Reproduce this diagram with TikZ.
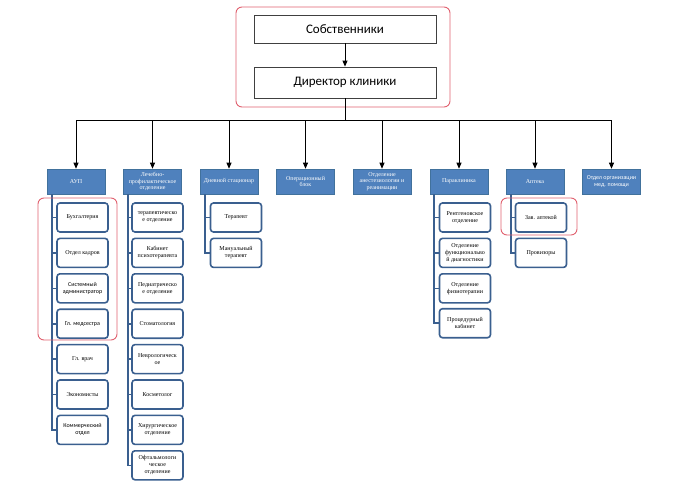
\documentclass[tikz,border=0pt]{standalone}
\usepackage{fontspec}
\setmainfont{Liberation Serif}
\newfontfamily\calfont{Carlito}
\usetikzlibrary{arrows.meta}
\definecolor{hblue}{HTML}{4F81BD}
\definecolor{hborder}{HTML}{41719C}
\definecolor{tblue}{HTML}{3A5F8F}
\definecolor{rframe}{HTML}{E0606E}
\tikzset{
  topbox/.style={draw=black!75, line width=0.8pt, fill=white, minimum width=182pt, inner sep=1pt, font=\calfont\fontsize{13}{15}\selectfont},
  head/.style={draw=hborder, line width=0.6pt, fill=hblue, minimum width=58pt, minimum height=25pt, inner sep=0.5pt, align=center, text=white, font=\fontsize{6}{6.6}\selectfont},
  sub/.style={draw=tblue, line width=1.6pt, rounded corners=3pt, fill=white, minimum width=51pt, minimum height=29pt, inner sep=0.5pt, align=center, font=\fontsize{6}{7}\selectfont},
  sans/.style={font=\calfont\fontsize{6}{7}\selectfont},
  redframe/.style={draw=rframe, line width=0.9pt, rounded corners=6pt},
  conn/.style={draw=black, line width=0.8pt, -{Triangle[length=6pt,width=5pt]}},
  plain/.style={draw=black, line width=0.8pt},
  tree/.style={draw=tblue, line width=1.6pt}
}
\begin{document}
\begin{tikzpicture}[x=1pt,y=-1pt]
\useasboundingbox (0,0) rectangle (681,490);
% top
\draw[redframe] (236,7) rectangle (450,107);
\node[topbox, minimum height=28pt] (own) at (345,29) {Собственники};
\node[topbox, minimum height=31pt] (dir) at (345,82.5) {Директор клиники};
\draw[conn] (own) -- (dir);
% heads
\node[head] (h1) at (76,181.5) {АУП};
\node[head] (h2) at (152.5,181.5) {Лечебно-\\профилактическое\\отделение};
\node[head] (h3) at (229,181.5) {Дневной стационар};
\node[head] (h4) at (305.5,181.5) {Операционный\\блок};
\node[head] (h5) at (382,181.5) {Отделение\\анестезиологии и\\реанимации};
\node[head] (h6) at (459,181.5) {Параклиника};
\node[head] (h7) at (535,181.5) {Аптека};
\node[head, font=\calfont\fontsize{6}{6.8}\selectfont] (h8) at (611.5,181.5) {Отдел организации\\мед. помощи};
\coordinate (bus) at (345,120);
\draw[plain] (dir.south) -- (bus);
\foreach \h in {h1,h2,h3,h4,h5,h6,h7,h8}{
  \draw[conn] (bus) -| (\h.north);
}
% АУП children
\node[sub] (a1) at (82.5,217.5) {Бухгалтерия};
\node[sub] (a2) at (82.5,252.9) {Отдел кадров};
\node[sub, sans] (a3) at (82.5,288.3) {Системный\\администратор};
\node[sub, sans] (a4) at (82.5,323.7) {Гл. медсестра};
\node[sub] (a5) at (82.5,359.1) {Гл. врач};
\node[sub] (a6) at (82.5,394.5) {Экономисты};
\node[sub, sans] (a7) at (82.5,429.9) {Коммерческий\\отдел};
\coordinate (t1) at (52,194);
\foreach \c in {a1,a2,a3,a4,a5,a6,a7}{ \draw[tree] (t1) |- (\c.west); }
% Лечебно children
\node[sub] (b1) at (157.5,217.5) {терапевтическо\\е отделение};
\node[sub] (b2) at (157.5,252.9) {Кабинет\\психотерапевта};
\node[sub] (b3) at (157.5,288.3) {Педиатрическо\\е отделение};
\node[sub] (b4) at (157.5,323.7) {Стоматология};
\node[sub] (b5) at (157.5,359.1) {Неврологическ\\ое};
\node[sub] (b6) at (157.5,394.5) {Косметолог};
\node[sub] (b7) at (157.5,429.9) {Хирургическое\\отделение};
\node[sub] (b8) at (157.5,465.3) {Офтальмологи\\ческое\\отделение};
\coordinate (t2) at (128,194);
\foreach \c in {b1,b2,b3,b4,b5,b6,b7,b8}{ \draw[tree] (t2) |- (\c.west); }
% Дневной стационар children
\node[sub] (c1) at (236,217.5) {Терапевт};
\node[sub] (c2) at (236,252.9) {Мануальный\\терапевт};
\coordinate (t3) at (205,194);
\foreach \c in {c1,c2}{ \draw[tree] (t3) |- (\c.west); }
% Параклиника children
\node[sub] (d1) at (465,217.5) {Рентгеновское\\отделение};
\node[sub] (d2) at (465,252.9) {Отделение\\функциональво\\й диагностики};
\node[sub] (d3) at (465,288.3) {Отделение\\физиотерапии};
\node[sub] (d4) at (465,323.2) {Процедурный\\кабинет};
\coordinate (t6) at (434,194);
\foreach \c in {d1,d2,d3,d4}{ \draw[tree] (t6) |- (\c.west); }
% Аптека children
\node[sub] (e1) at (541,217.5) {Зав. аптекой};
\node[sub] (e2) at (541,252.9) {Провизоры};
\coordinate (t7) at (511,194);
\foreach \c in {e1,e2}{ \draw[tree] (t7) |- (\c.west); }
% red frames
\draw[redframe] (38,198) rectangle (117,340);
\draw[redframe] (501,198) rectangle (577,235);
\end{tikzpicture}
\end{document}
